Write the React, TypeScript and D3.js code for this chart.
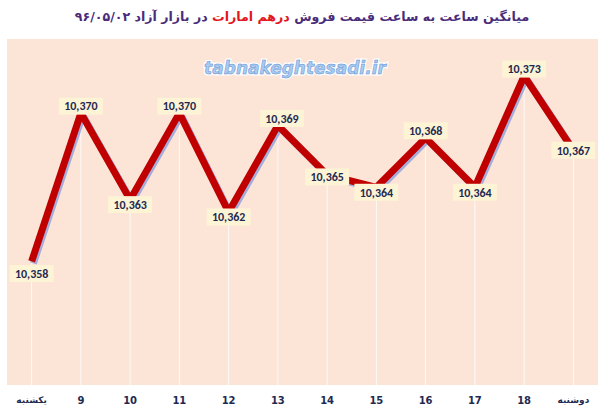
import { useEffect, useRef } from 'react'
import * as d3 from 'd3'

// hourly labels (first = Sunday, last = Monday)
const categories = ['یکشنبه', '9', '10', '11', '12', '13', '14', '15', '16', '17', '18', 'دوشنبه']
const prices = [10358, 10370, 10363, 10370, 10362, 10369, 10365, 10364, 10368, 10364, 10373, 10367]

const titleParts = [
  { text: 'میانگین ساعت به ساعت قیمت فروش ', color: '#4a2c7a' },
  { text: 'درهم امارات', color: '#e3161b' },
  { text: ' در بازار آزاد ۹۶/۰۵/۰۲', color: '#4a2c7a' }
]
const watermark = 'tabnakeghtesadi.ir'

const width = 600
const height = 410
const plot = { left: 7, right: 598, top: 39, bottom: 385 }

const App = () => {
  const svgRef = useRef<SVGSVGElement>(null)

  useEffect(() => {
    if (!svgRef.current) return
    const svg = d3.select(svgRef.current)
    svg.selectAll('*').remove()

    const x = d3.scalePoint<string>()
      .domain(categories)
      .range([plot.left, plot.right])
      .padding(0.5)

    const y = d3.scaleLinear()
      .domain([10348, 10376])
      .range([plot.bottom, plot.top])

    // plot background
    svg.append('rect')
      .attr('x', plot.left)
      .attr('y', plot.top)
      .attr('width', plot.right - plot.left)
      .attr('height', plot.bottom - plot.top)
      .attr('fill', '#fce4d6')

    const data = categories.map((c, i) => ({ c, v: prices[i] }))

    // drop lines
    svg.append('g')
      .selectAll('line')
      .data(data)
      .join('line')
      .attr('x1', d => x(d.c) || 0)
      .attr('x2', d => x(d.c) || 0)
      .attr('y1', d => y(d.v))
      .attr('y2', plot.bottom)
      .attr('stroke', '#ffffff')
      .attr('stroke-width', 1)
      .attr('opacity', 0.85)

    const line = d3.line<{ c: string; v: number }>()
      .x(d => x(d.c) || 0)
      .y(d => y(d.v))

    // shadow
    svg.append('path')
      .datum(data)
      .attr('fill', 'none')
      .attr('stroke', '#8c9fdc')
      .attr('stroke-width', 7)
      .attr('opacity', 0.8)
      .attr('transform', 'translate(1.8,2)')
      .attr('d', line)

    svg.append('path')
      .datum(data)
      .attr('fill', 'none')
      .attr('stroke', '#c00000')
      .attr('stroke-width', 7)
      .attr('d', line)

    // data labels
    const offset = (i: number) => {
      const v = prices[i]
      const prev = prices[i - 1]
      const next = prices[i + 1]
      if (i === 0) return 12
      if (next === undefined) return 0
      if (v > prev && v > next) return -7
      if (v < prev && v < next) return 5
      return 2
    }

    const labels = svg.append('g')
      .selectAll('g')
      .data(data)
      .join('g')
      .attr('transform', (d, i) => `translate(${(x(d.c) || 0) + (i === 5 ? 4 : 0)},${y(d.v) + offset(i)})`)

    labels.append('rect')
      .attr('x', -22)
      .attr('y', -8.5)
      .attr('width', 44)
      .attr('height', 17)
      .attr('fill', '#fdf4d6')

    labels.append('text')
      .attr('text-anchor', 'middle')
      .attr('dy', '0.36em')
      .attr('font-family', 'Calibri, Carlito, "Liberation Sans", Arial, sans-serif')
      .attr('font-weight', 'bold')
      .attr('font-size', 12)
      .attr('fill', '#1f2a52')
      .text(d => d3.format(',')(d.v))

    // category labels
    svg.append('g')
      .selectAll('text')
      .data(categories)
      .join('text')
      .attr('x', d => x(d) || 0)
      .attr('y', 400)
      .attr('text-anchor', 'middle')
      .attr('dy', '0.35em')
      .attr('font-family', '"DejaVu Sans", sans-serif')
      .attr('font-weight', 'bold')
      .attr('font-size', d => (/^\d+$/.test(d) ? 10 : 9))
      .attr('fill', '#1f2a52')
      .text(d => d)

    // watermark
    svg.append('text')
      .attr('x', 295)
      .attr('y', 68)
      .attr('text-anchor', 'middle')
      .attr('dy', '0.35em')
      .attr('font-family', '"DejaVu Sans", sans-serif')
      .attr('font-weight', 'bold')
      .attr('font-style', 'italic')
      .attr('font-size', 17)
      .attr('fill', '#a9cbf0')
      .attr('stroke', '#ffffff')
      .attr('stroke-width', 3)
      .attr('paint-order', 'stroke')
      .text(watermark)
    svg.append('text')
      .attr('x', 295)
      .attr('y', 68)
      .attr('text-anchor', 'middle')
      .attr('dy', '0.35em')
      .attr('font-family', '"DejaVu Sans", sans-serif')
      .attr('font-weight', 'bold')
      .attr('font-style', 'italic')
      .attr('font-size', 17)
      .attr('fill', 'none')
      .attr('stroke', '#5e8fd0')
      .attr('stroke-width', 0.5)
      .text(watermark)

    // title
    const title = svg.append('text')
      .attr('x', 302)
      .attr('y', 17)
      .attr('text-anchor', 'middle')
      .attr('direction', 'rtl')
      .attr('dy', '0.35em')
      .attr('font-family', '"DejaVu Sans", sans-serif')
      .attr('font-weight', 'bold')
      .attr('font-size', 12.6)
    title.selectAll('tspan')
      .data(titleParts)
      .join('tspan')
      .attr('fill', d => d.color)
      .text(d => d.text)
  }, [])

  return (
    <svg
      ref={svgRef}
      width={width}
      height={height}
      style={{ position: 'absolute', left: 0, top: 0, background: '#ffffff' }}
    />
  )
}

export default App
